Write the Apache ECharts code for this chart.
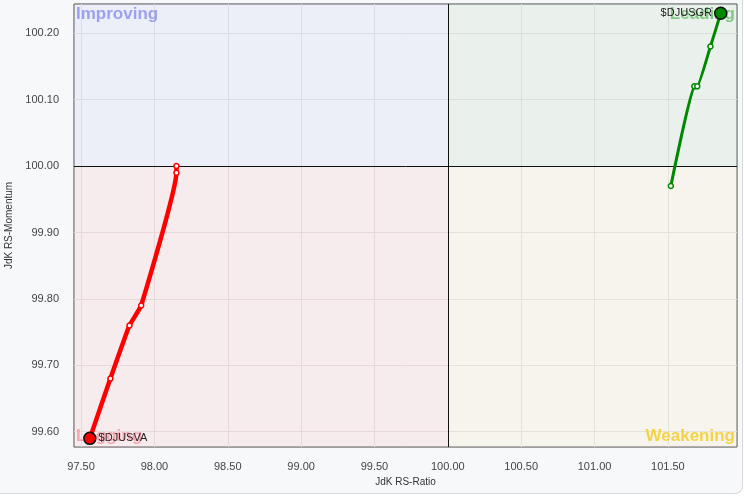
<!DOCTYPE html>
<html>
<head>
<meta charset="utf-8">
<script src="https://cdn.jsdelivr.net/npm/echarts@6/dist/echarts.min.js"></script>
<style>
html,body{margin:0;padding:0;background:#fff;}
#wrap{width:742px;height:493px;background:#f7f8fa;border-right:1px solid #d6d8dc;border-bottom:1px solid #d6d8dc;border-bottom-right-radius:8px;overflow:hidden;}
#main{width:744px;height:496px;}
</style>
</head>
<body>
<div id="wrap"><div id="main"></div></div>
<script>
// RS-Ratio ticks / RS-Momentum ticks
const xTicks = [97.5, 98.0, 98.5, 99.0, 99.5, 100.0, 100.5, 101.0, 101.5];
const yTicks = [99.6, 99.7, 99.8, 99.9, 100.0, 100.1, 100.2];
const xRange = [97.452, 101.971];
const yRange = [99.577, 100.244];

// $DJUSVA tail (oldest -> latest)
const vaRatio = [98.15, 98.15, 97.91, 97.83, 97.70, 97.56];
const vaMomentum = [100.00, 99.99, 99.79, 99.76, 99.68, 99.59];
// $DJUSGR tail (oldest -> latest)
const grRatio = [101.52, 101.68, 101.70, 101.79, 101.86];
const grMomentum = [99.97, 100.12, 100.12, 100.18, 100.23];

const quadrants = ['Improving', 'Leading', 'Lagging', 'Weakening'];

function tail(xs, ys) { return xs.map((x, i) => [x, ys[i]]); }

const vaData = tail(vaRatio, vaMomentum);
const grData = tail(grRatio, grMomentum);

function styled(data, color, label, labelPos) {
  return data.map((p, i) => {
    if (i === data.length - 1) {
      return {
        value: p, symbolSize: 12,
        itemStyle: {color: color, borderColor: '#111', borderWidth: 1.5},
        label: {show: true, formatter: label, position: labelPos, distance: 2,
                color: '#222', fontSize: 11, fontFamily: 'Liberation Sans, Arial, sans-serif'}
      };
    }
    return {value: p};
  });
}

const chart = echarts.init(document.getElementById('main'), null, {renderer: 'canvas'});
const font = 'Liberation Sans, Arial, sans-serif';
const qLabel = (color) => ({show: true, fontSize: 17, fontWeight: 'bold', fontFamily: font, color: color, distance: 2});

chart.setOption({
  backgroundColor: 'transparent',
  animation: false,
  grid: {left: 74, right: 7, top: 4, bottom: 49, outerBoundsMode: 'none', containLabel: false, show: true, borderColor: '#444', borderWidth: 1, backgroundColor: 'transparent'},
  xAxis: {
    type: 'value', min: xRange[0], max: xRange[1],
    name: 'JdK RS-Ratio', nameLocation: 'middle', nameGap: 30,
    nameTextStyle: {fontSize: 10, color: '#333', fontFamily: font},
    axisLine: {show: false},
    axisTick: {show: false, customValues: xTicks},
    axisLabel: {customValues: xTicks, formatter: v => v.toFixed(2), color: '#444', fontSize: 11, fontFamily: font, margin: 14},
    splitLine: {show: true, lineStyle: {color: '#e0e0e0', width: 1}}
  },
  yAxis: {
    type: 'value', min: yRange[0], max: yRange[1],
    name: 'JdK RS-Momentum', nameLocation: 'middle', nameGap: 54, nameRotate: 90,
    nameTextStyle: {fontSize: 10, color: '#333', fontFamily: font},
    axisLine: {show: false},
    axisTick: {show: false, customValues: yTicks},
    axisLabel: {customValues: yTicks, formatter: v => v.toFixed(2), color: '#444', fontSize: 11, fontFamily: font, margin: 15},
    splitLine: {show: true, lineStyle: {color: '#e0e0e0', width: 1}}
  },
  series: [
    {
      type: 'line', name: 'bg', data: [], silent: true, z: 1,
      markArea: {
        silent: true,
        data: [
          [{xAxis: xRange[0], yAxis: 100, itemStyle: {color: 'rgba(200,204,240,0.22)'}, label: Object.assign(qLabel('#9ba1ef'), {position: 'insideTopLeft'}), name: quadrants[0]}, {xAxis: 100, yAxis: yRange[1]}],
          [{xAxis: 100, yAxis: 100, itemStyle: {color: 'rgba(190,220,190,0.22)'}, label: Object.assign(qLabel('rgba(60,170,60,0.6)'), {position: 'insideTopRight'}), name: quadrants[1]}, {xAxis: xRange[1], yAxis: yRange[1]}],
          [{xAxis: xRange[0], yAxis: yRange[0], itemStyle: {color: 'rgba(245,190,190,0.22)'}, label: Object.assign(qLabel('rgba(245,120,130,0.6)'), {position: 'insideBottomLeft'}), name: quadrants[2]}, {xAxis: 100, yAxis: 100}],
          [{xAxis: 100, yAxis: yRange[0], itemStyle: {color: 'rgba(245,230,190,0.22)'}, label: Object.assign(qLabel('rgba(245,205,40,0.85)'), {position: 'insideBottomRight'}), name: quadrants[3]}, {xAxis: xRange[1], yAxis: 100}]
        ]
      },
      markLine: {
        silent: true, symbol: 'none', label: {show: false},
        lineStyle: {color: '#111', width: 1, type: 'solid'},
        data: [{xAxis: 100}, {yAxis: 100}]
      }
    },
    {
      type: 'line', name: '$DJUSVA', data: styled(vaData, '#ff0000', '$DJUSVA', 'right'), z: 5,
      smooth: 0.12, symbol: 'circle', symbolSize: 5,
      lineStyle: {color: '#ff0000', width: 4.5},
      itemStyle: {color: '#fff', borderColor: '#ff0000', borderWidth: 1.5}
    },
    {
      type: 'line', name: '$DJUSGR', data: styled(grData, '#008800', '$DJUSGR', 'left'), z: 5,
      smooth: 0.12, symbol: 'circle', symbolSize: 5,
      lineStyle: {color: '#008800', width: 3},
      itemStyle: {color: '#fff', borderColor: '#008800', borderWidth: 1.5}
    }
  ]
});
</script>
</body>
</html>
